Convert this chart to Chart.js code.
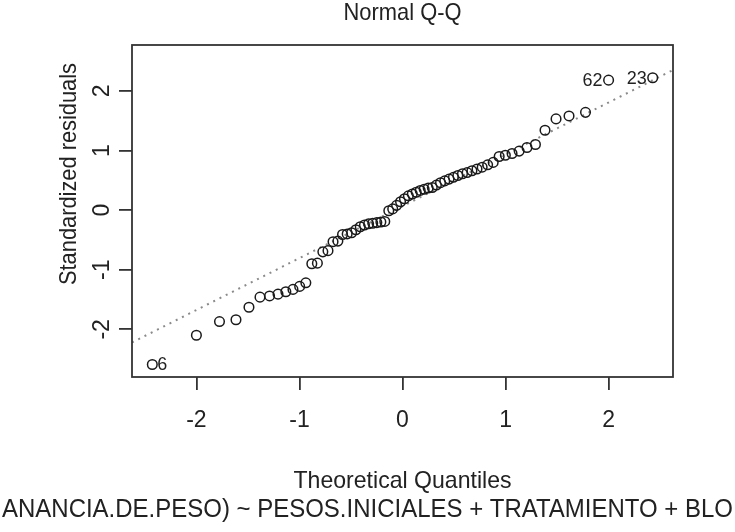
<!DOCTYPE html>
<html>
<head>
<meta charset="utf-8">
<script src="https://cdn.jsdelivr.net/npm/chart.js@4.4.1/dist/chart.umd.min.js"></script>
<style>
  html, body { margin: 0; padding: 0; background: #fff; }
  #wrap { width: 735px; height: 532px; }
</style>
</head>
<body>
<div id="wrap"><canvas id="cQQ" width="735" height="532"></canvas></div>
<script>
/* ── DADOS ── */
// quantis teóricos (eixo x)
const quantis = [
  -2.428, -2.000, -1.776, -1.616, -1.490, -1.383, -1.290, -1.208, -1.132, -1.063,
  -0.998, -0.938, -0.880, -0.826, -0.773, -0.723, -0.674, -0.627, -0.582, -0.537,
  -0.494, -0.452, -0.410, -0.369, -0.329, -0.289, -0.249, -0.210, -0.172, -0.133,
  -0.095, -0.057, -0.019, 0.019, 0.057, 0.095, 0.133, 0.172, 0.210, 0.249,
  0.289, 0.329, 0.369, 0.410, 0.452, 0.494, 0.537, 0.582, 0.627, 0.674,
  0.723, 0.773, 0.826, 0.880, 0.938, 0.998, 1.063, 1.132, 1.208, 1.290,
  1.383, 1.490, 1.616, 1.776, 2.000, 2.428
];
// resíduos padronizados ordenados (eixo y)
const residuos = [
  -2.59, -2.10, -1.87, -1.84, -1.63, -1.46, -1.44, -1.41, -1.37, -1.33,
  -1.28, -1.22, -0.90, -0.89, -0.70, -0.68, -0.53, -0.52, -0.41, -0.40,
  -0.38, -0.33, -0.28, -0.25, -0.23, -0.22, -0.21, -0.20, -0.19, -0.01,
  0.02, 0.08, 0.14, 0.19, 0.24, 0.27, 0.30, 0.33, 0.35, 0.37,
  0.38, 0.42, 0.46, 0.49, 0.52, 0.55, 0.58, 0.61, 0.63, 0.66,
  0.69, 0.72, 0.76, 0.80, 0.90, 0.92, 0.95, 0.99, 1.05, 1.10,
  1.34, 1.53, 1.58, 1.64, 2.18, 2.22
];
// pontos identificados (índice, texto, lado)
const rotulos = [
  { i: 0,  txt: "6",  lado: "dir" },
  { i: 64, txt: "62", lado: "esq" },
  { i: 65, txt: "23", lado: "esq" }
];
// linha de referência (qqline)
const linhaX = [-2.625, 2.625];
const linhaY = [-2.22, 2.35];

const ticksX = [-2, -1, 0, 1, 2];
const ticksY = [-2, -1, 0, 1, 2];
const limX = [-2.625, 2.625];
const limY = [-2.80, 2.77];

const titulo    = "Normal Q-Q";
const tituloX   = "Theoretical Quantiles";
const tituloY   = "Standardized residuals";
const subtitulo = "ANANCIA.DE.PESO) ~ PESOS.INICIALES + TRATAMIENTO + BLO";

/* ── ESTILO ── */
const FONTE = "'Liberation Sans', Arial, sans-serif";
const corTexto = "#222";
const corEixo  = "#333";

/* ── TEXTOS E MOLDURA ── */
const textos = {
  id: "textos",
  afterDraw(chart) {
    const { ctx, chartArea: a, scales } = chart;
    ctx.save();
    ctx.strokeStyle = corEixo;
    ctx.lineWidth = 1.8;
    ctx.strokeRect(a.left, a.top, a.right - a.left, a.bottom - a.top);

    ctx.fillStyle = corTexto;
    ctx.textAlign = "center";
    ctx.textBaseline = "middle";
    const cx = (a.left + a.right) / 2;
    ctx.font = "24px " + FONTE;
    ctx.fillText(titulo, cx, 13, 118);
    ctx.fillText(tituloX, cx, 481, 218);
    ctx.font = "25px " + FONTE;
    ctx.fillText(subtitulo, 367.5, 510, 731);

    // rótulo do eixo y, um pouco acima do centro como no original
    ctx.save();
    ctx.font = "24px " + FONTE;
    ctx.translate(69, 174);
    ctx.rotate(-Math.PI / 2);
    ctx.fillText(tituloY, 0, 0, 222);
    ctx.restore();

    ctx.font = "18px " + FONTE;
    rotulos.forEach(r => {
      const px = scales.x.getPixelForValue(quantis[r.i]);
      const py = scales.y.getPixelForValue(residuos[r.i]);
      const dir = r.lado === "dir";
      ctx.textAlign = dir ? "left" : "right";
      ctx.fillText(r.txt, px + (dir ? 5 : -6), py + 1);
    });
    ctx.restore();
  }
};

/* ── GRÁFICO ── */
const eixoComum = {
  type: "linear",
  border: { display: false },
  grid: { drawOnChartArea: false, drawTicks: true, tickLength: 13, color: corEixo, lineWidth: 1.8 },
  ticks: { color: corTexto, font: { family: FONTE, size: 23 } }
};

new Chart(document.getElementById("cQQ"), {
  type: "scatter",
  data: {
    datasets: [
      {
        label: "residuos",
        data: quantis.map((q, i) => ({ x: q, y: residuos[i] })),
        pointStyle: "circle",
        pointRadius: 4.8,
        pointBorderWidth: 1.5,
        borderColor: "#1a1a1a",
        backgroundColor: "rgba(0,0,0,0)",
        order: 1
      },
      {
        label: "qqline",
        type: "line",
        data: linhaX.map((x, i) => ({ x: x, y: linhaY[i] })),
        borderColor: "#8a8a8a",
        borderWidth: 2,
        borderDash: [2, 5],
        pointRadius: 0,
        fill: false,
        order: 2
      }
    ]
  },
  options: {
    responsive: false,
    animation: false,
    layout: { padding: { left: 0, right: 62, top: 45, bottom: 0 } },
    plugins: { legend: { display: false }, tooltip: { enabled: false } },
    scales: {
      x: {
        ...eixoComum,
        min: limX[0], max: limX[1],
        afterBuildTicks: s => { s.ticks = ticksX.map(v => ({ value: v })); },
        afterFit: s => { s.height = 155; },
        ticks: { ...eixoComum.ticks, padding: 17, maxRotation: 0 }
      },
      y: {
        ...eixoComum,
        min: limY[0], max: limY[1],
        afterBuildTicks: s => { s.ticks = ticksY.map(v => ({ value: v })); },
        afterFit: s => { s.width = 132; },
        ticks: { ...eixoComum.ticks, padding: 6, minRotation: 90, maxRotation: 90, crossAlign: "center" }
      }
    }
  },
  plugins: [textos]
});
</script>
</body>
</html>
